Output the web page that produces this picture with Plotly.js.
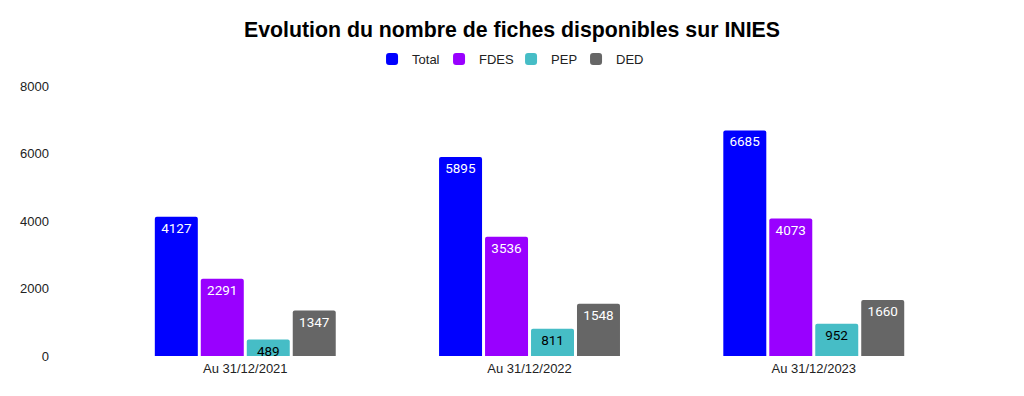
<!DOCTYPE html>
<html>
<head>
<meta charset="utf-8">
<script src="https://cdn.plot.ly/plotly-3.0.1.min.js"></script>
<style>html,body{margin:0;padding:0;background:#fff;}#chart{width:1024px;height:396px;}</style>
</head>
<body>
<div id="chart"></div>
<script>
const categories = ["Au 31/12/2021", "Au 31/12/2022", "Au 31/12/2023"];
const seriesNames = ["Total", "FDES", "PEP", "DED"];
const totalValues = [4127, 5895, 6685];
const fdesValues = [2291, 3536, 4073];
const pepValues = [489, 811, 952];
const dedValues = [1347, 1548, 1660];
const yTicks = [0, 2000, 4000, 6000, 8000];

// styles
const colors = ["#0000ff", "#9900ff", "#46bdc6", "#666666"];
const textColors = ["#ffffff", "#ffffff", "#000000", "#ffffff"];
const legendEntryWidths = [22, 27, 20, 26];
const allValues = [totalValues, fdesValues, pepValues, dedValues];

const traces = allValues.map((vals, i) => ({
  type: "bar",
  name: seriesNames[i],
  x: categories,
  y: vals,
  text: vals.map(String),
  textposition: "inside",
  insidetextanchor: "end",
  textangle: 0,
  constraintext: "none",
  textfont: {family: "Roboto, Arial, sans-serif", size: 13.5, color: textColors[i]},
  marker: {color: colors[i], line: {width: 0}},
  legendwidth: legendEntryWidths[i],
  hoverinfo: "none"
}));

const layout = {
  width: 1024,
  height: 396,
  margin: {l: 50, r: 34, t: 86, b: 40},
  paper_bgcolor: "#ffffff",
  plot_bgcolor: "#ffffff",
  barmode: "group",
  bargap: 0.353,
  bargroupgap: 0.065,
  barcornerradius: 2,
  title: {
    text: "<b>Evolution du nombre de fiches disponibles sur INIES</b>",
    font: {family: "Liberation Sans, Arial, sans-serif", size: 21.3, color: "#000000"},
    x: 0.5, xanchor: "center", xref: "container", y: 0.925, yanchor: "middle"
  },
  showlegend: true,
  legend: {
    orientation: "h",
    x: 0.3426, xanchor: "left",
    y: 1.1, yanchor: "middle",
    font: {family: "Liberation Sans, Arial, sans-serif", size: 13, color: "#222222"},
    itemwidth: 30,
    traceorder: "normal"
  },
  xaxis: {
    type: "category",
    range: [-0.687, 2.62],
    autorange: false,
    showgrid: false,
    zeroline: false,
    showline: false,
    ticks: "",
    ticklabelstandoff: 3,
    tickfont: {family: "Liberation Sans, Arial, sans-serif", size: 13, color: "#222222"}
  },
  yaxis: {
    range: [0, 8000],
    autorange: false,
    tickvals: yTicks,
    ticktext: yTicks.map(String),
    showgrid: false,
    zeroline: false,
    showline: false,
    ticks: "",
    tickfont: {family: "Liberation Sans, Arial, sans-serif", size: 13, color: "#222222"}
  },
  font: {family: "Liberation Sans, Arial, sans-serif"}
};

Plotly.newPlot("chart", traces, layout, {displayModeBar: false, staticPlot: true});
</script>
</body>
</html>
